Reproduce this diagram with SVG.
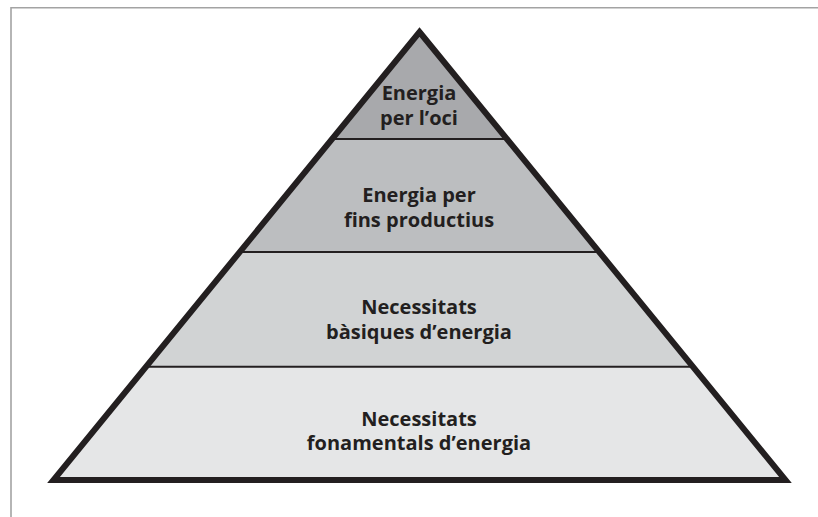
<svg xmlns="http://www.w3.org/2000/svg" width="818" height="517" viewBox="0 0 818 517">
<style>
.lbl{font-family:"Open Sans","Noto Sans","DejaVu Sans",sans-serif;font-weight:700;font-size:20px;fill:#231f20;text-anchor:middle}
.div{stroke:#231f20;stroke-width:2;fill:none}
.frame{stroke:#a3a3a3;stroke-width:1.6;fill:none}
</style>
<rect width="818" height="517" fill="#ffffff"/>
<path class="frame" d="M11,517 V7.8 H818"/>
<g id="tier-oci">
<polygon points="419.5,32 506.9,139 332.1,139" fill="#a8a9ac"/>
<text class="lbl" x="419" y="99.5">Energia</text>
<text class="lbl" x="419" y="124.5">per l’oci</text>
</g>
<g id="tier-productius">
<polygon points="332.1,139 506.9,139 599.2,252 239.8,252" fill="#bcbec0"/>
<text class="lbl" x="419" y="202">Energia per</text>
<text class="lbl" x="419" y="227">fins productius</text>
</g>
<g id="tier-basiques">
<polygon points="239.8,252 599.2,252 692.9,366.7 146.1,366.7" fill="#d1d3d4"/>
<text class="lbl" x="419" y="314">Necessitats</text>
<text class="lbl" x="419" y="338.5">bàsiques d’energia</text>
</g>
<g id="tier-fonamentals">
<polygon points="146.1,366.7 692.9,366.7 785.5,480 53.5,480" fill="#e5e6e7"/>
<text class="lbl" x="419" y="425.5">Necessitats</text>
<text class="lbl" x="419" y="450">fonamentals d’energia</text>
</g>
<g id="connectors">
<line class="div" x1="332.1" y1="139" x2="506.9" y2="139"/>
<line class="div" x1="239.8" y1="252" x2="599.2" y2="252"/>
<line class="div" x1="146.1" y1="366.7" x2="692.9" y2="366.7"/>
</g>
<polygon points="419.5,32 785.5,480 53.5,480" fill="none" stroke="#231f20" stroke-width="6" stroke-linejoin="miter" stroke-miterlimit="10"/>
</svg>
